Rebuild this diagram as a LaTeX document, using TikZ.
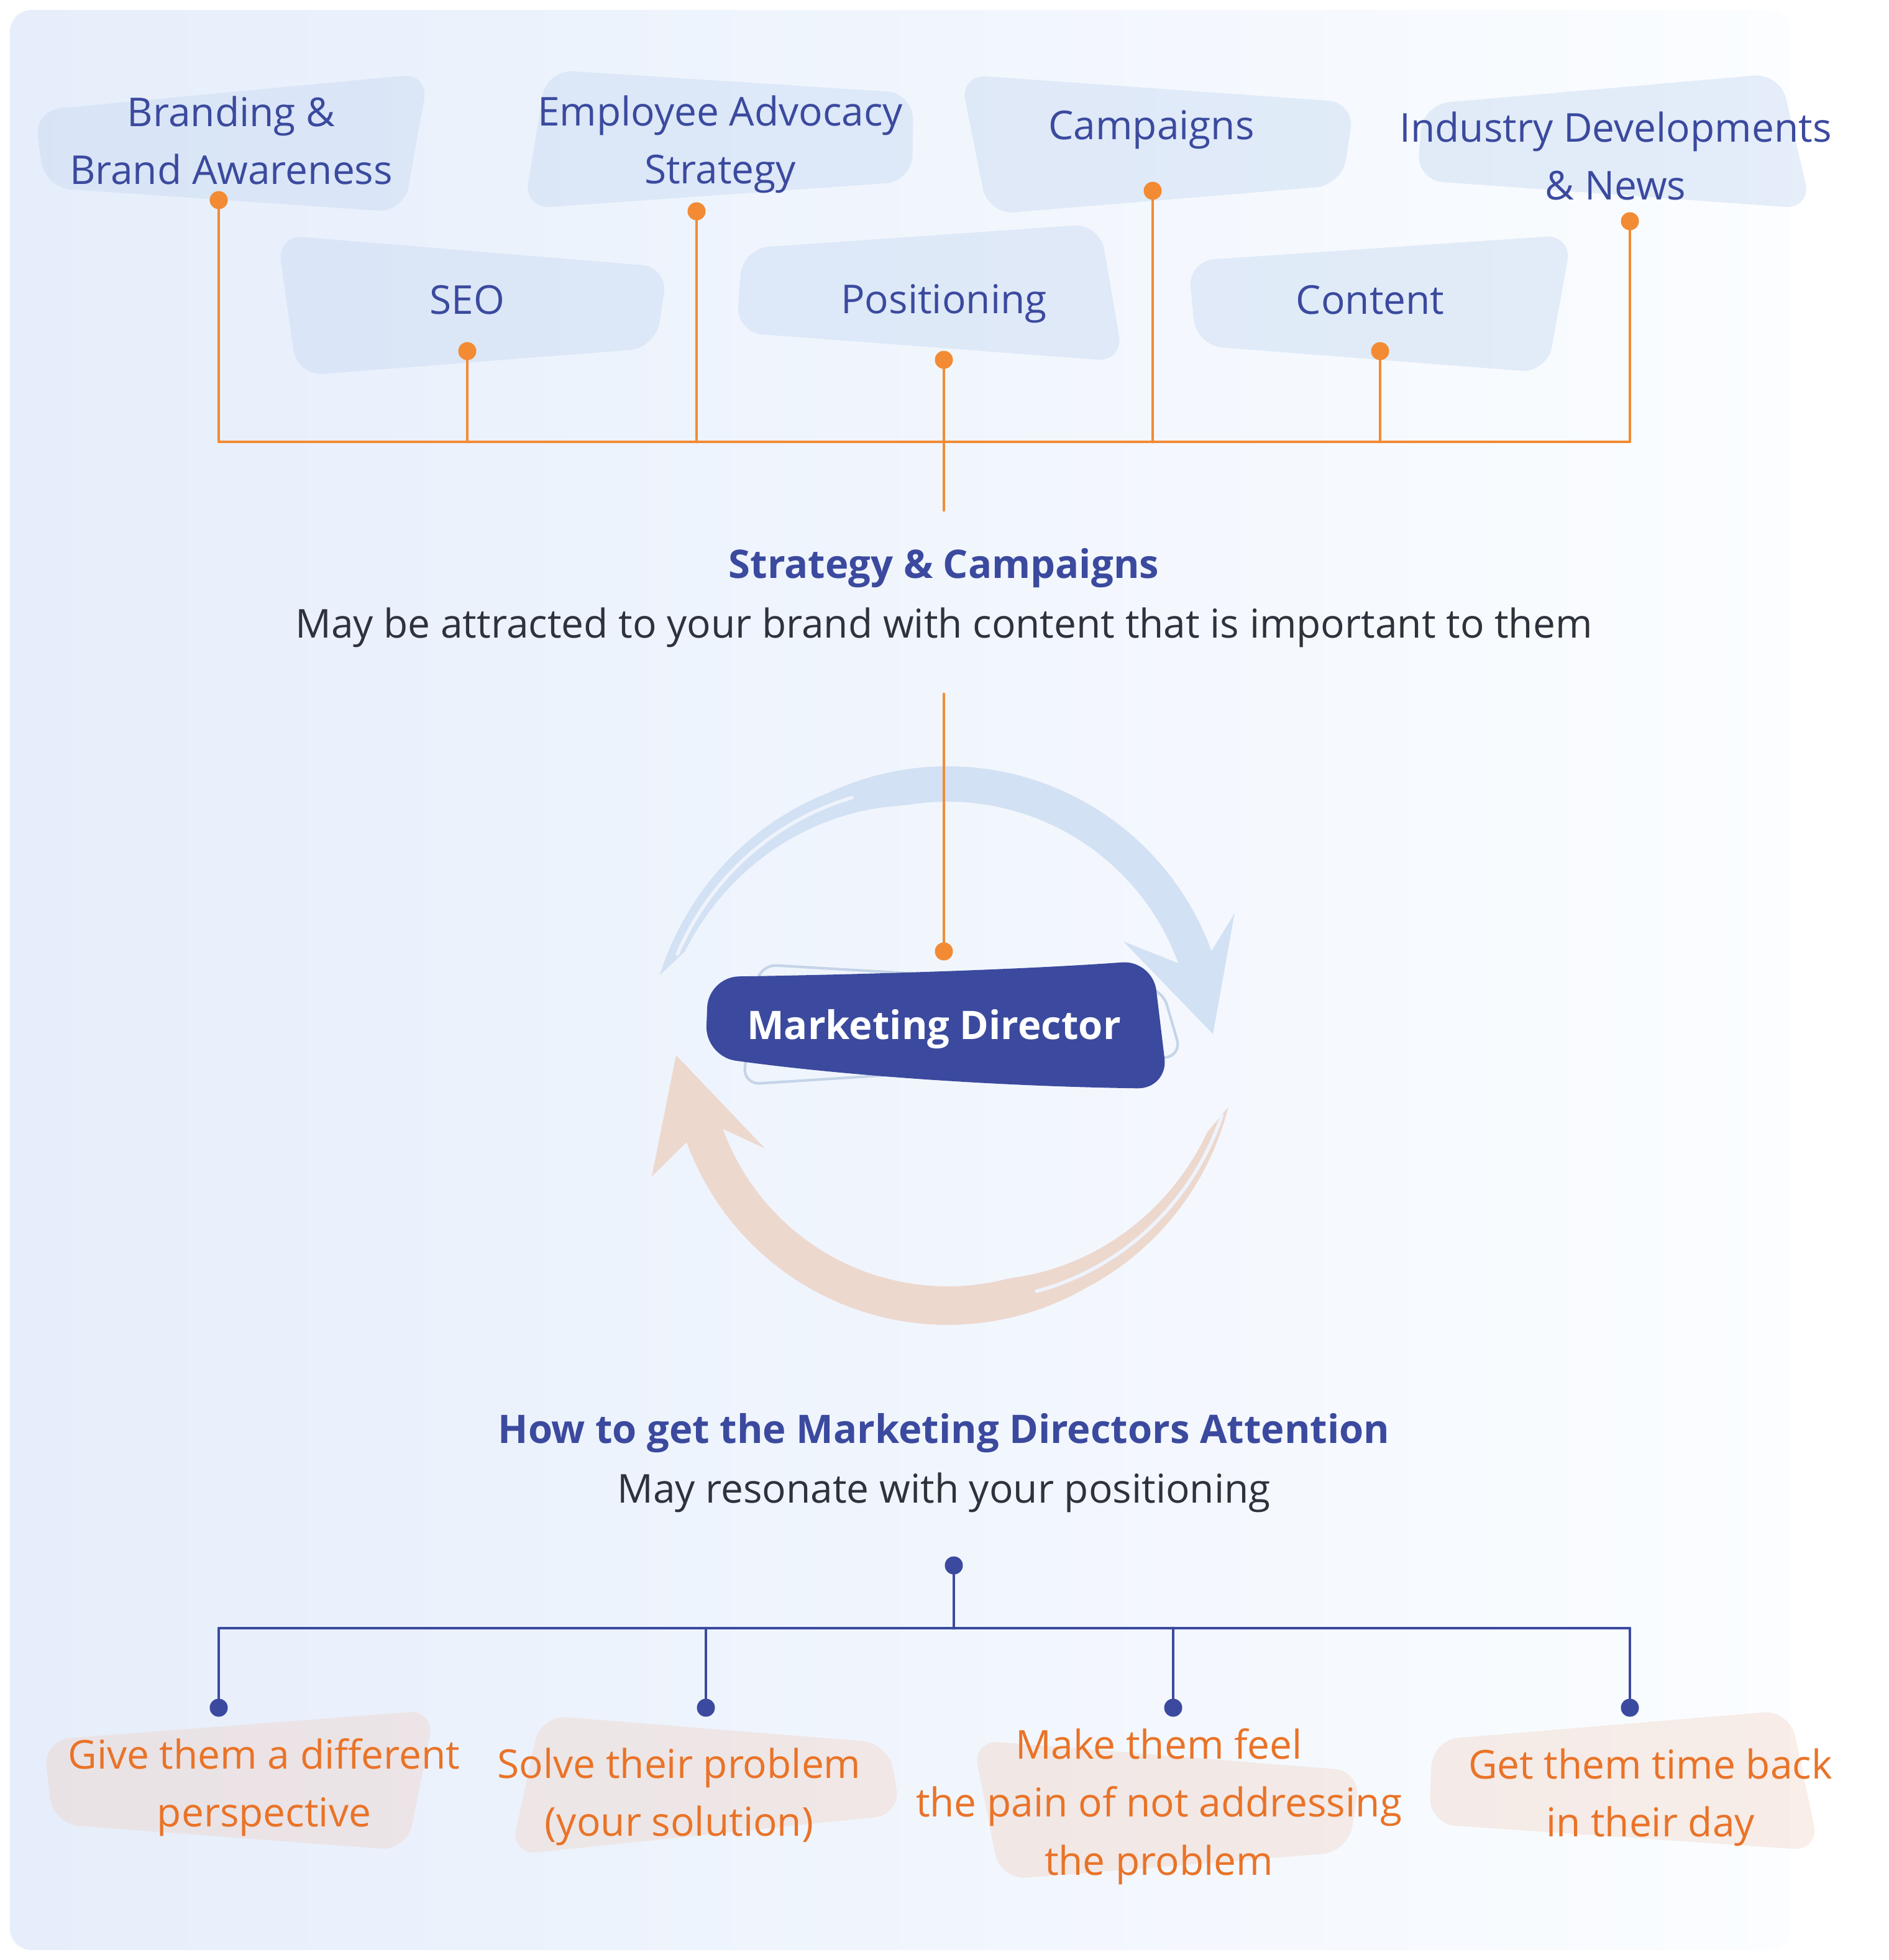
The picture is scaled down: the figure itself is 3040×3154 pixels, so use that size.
\documentclass[tikz,border=0pt]{standalone}
\usepackage{fontspec}
\setmainfont{Open Sans}
\usetikzlibrary{calc}
\begin{document}
\begin{tikzpicture}[line cap=round,line join=round,x=0.01cm,y=-0.01cm,
  lbl/.style={text=navy,font=\fontsize{18.2}{26.5}\selectfont,align=center,inner sep=0pt},
  ttl/.style={text=navy,font=\fontsize{18}{26.5}\selectfont\bfseries,inner sep=0pt},
  sub/.style={text=darktxt,font=\fontsize{18.2}{26.5}\selectfont,inner sep=0pt},
  olbl/.style={text=orngtxt,font=\fontsize{18.2}{26.5}\selectfont,align=center,inner sep=0pt},
  bblob/.style={fill=blobblue,fill opacity=0.45,rounded corners=12pt},
  pblob/.style={fill=blobpeach,fill opacity=0.3,rounded corners=12pt},
  oline/.style={draw=orng,line width=1.4pt},
  nline/.style={draw=navy,line width=1.4pt},
  odot/.style={circle,fill=orng,inner sep=0pt,minimum size=0.29cm},
  ndot/.style={circle,fill=navy,inner sep=0pt,minimum size=0.29cm},
  gapline/.style={draw=bgM,line width=1.6pt}]
\definecolor{navy}{RGB}{59,74,158}
\definecolor{darktxt}{RGB}{45,50,60}
\definecolor{orng}{RGB}{242,139,52}
\definecolor{orngtxt}{RGB}{233,115,40}
\definecolor{bgL}{RGB}{230,238,251}
\definecolor{bgM}{RGB}{238,243,252}
\definecolor{bgR}{RGB}{251,253,255}
\definecolor{blobblue}{RGB}{200,218,242}
\definecolor{blobpeach}{RGB}{240,200,180}
\definecolor{barrowc}{RGB}{210,225,243}
\definecolor{oarrowc}{RGB}{237,216,206}
\definecolor{outlc}{RGB}{197,212,232}
\useasboundingbox (0,0) rectangle (3040,3154);
\fill[white] (0,0) rectangle (3040,3154);
\shade[left color=bgL,middle color=bgM,right color=bgR,rounded corners=10pt] (16,16) rectangle (2880,3138);
% circular arrows
\fill[barrowc] plot[domain=166:20,samples=70] ({1525+(452+25*max(0,(\x-115)/50))*cos(\x)},{1685-(452+25*max(0,(\x-115)/50))*sin(\x)}) -- (1987,1469) -- (1952,1664) -- (1808,1515) -- plot[domain=20:160,samples=70] ({1525+(395+55*max(0,(\x-100)/60))*cos(\x)},{1685-(395+55*max(0,(\x-100)/60))*sin(\x)}) -- cycle;
\draw[gapline] plot[domain=111:161,samples=40] ({1525+(430+30*(\x-111)/50)*cos(\x)},{1685-(430+30*(\x-111)/50)*sin(\x)});
\fill[oarrowc] plot[domain=200:348,samples=70] ({1525+(447+15*max(0,(\x-300)/48))*cos(\x)},{1685-(447+15*max(0,(\x-300)/48))*sin(\x)}) -- plot[domain=342:200,samples=70] ({1525+(385+55*max(0,(\x-285)/57))*cos(\x)},{1685-(385+55*max(0,(\x-285)/57))*sin(\x)}) -- (1231,1848) -- (1088,1698) -- (1049,1893) -- cycle;
\draw[gapline] plot[domain=290:346,samples=40] ({1525+(418+37*(\x-290)/56)*cos(\x)},{1685-(418+37*(\x-290)/56)*sin(\x)});
% blobs
\fill[bblob] (55,178) -- (690,118) -- (650,342) -- (72,302) -- cycle;
\fill[bblob] (880,112) -- (1470,150) -- (1468,292) -- (843,336) -- cycle;
\fill[bblob] (1545,120) -- (2180,165) -- (2160,298) -- (1590,345) -- cycle;
\fill[bblob] (2290,168) -- (2865,118) -- (2915,336) -- (2280,290) -- cycle;
\fill[bblob] (446,378) -- (1075,430) -- (1055,560) -- (478,605) -- cycle;
\fill[bblob] (1195,400) -- (1770,360) -- (1808,582) -- (1185,535) -- cycle;
\fill[bblob] (1912,420) -- (2530,378) -- (2490,600) -- (1925,556) -- cycle;
\fill[pblob] (70,2800) -- (700,2752) -- (655,2978) -- (85,2935) -- cycle;
\fill[pblob] (870,2760) -- (1430,2805) -- (1450,2920) -- (822,2985) -- cycle;
\fill[pblob] (1565,2800) -- (2190,2850) -- (2170,2980) -- (1610,3025) -- cycle;
\fill[pblob] (2305,2800) -- (2880,2752) -- (2928,2978) -- (2300,2935) -- cycle;
% marketing director
\draw[outlc,line width=1.2pt,rounded corners=8pt] (1222,1552) -- (1870,1590) -- (1902,1700) -- (1195,1745) -- cycle;
\fill[navy,rounded corners=14pt] (1140,1572) .. controls (1400,1568) and (1650,1560) .. (1855,1545) -- (1880,1752) .. controls (1600,1748) and (1350,1730) .. (1135,1700) -- cycle;
\node[text=white,font=\fontsize{18}{26.5}\selectfont\bfseries,inner sep=0pt] (tMD) at (1503,1656) {Marketing Director};
% top labels
\node[lbl] (tBrand) at (372,226) {Branding \&\\Brand Awareness};
\node[lbl] (tEmp) at (1159,232) {Employee Advocacy\\Strategy};
\node[lbl] (tCamp) at (1853,209) {Campaigns};
\node[lbl] (tNews) at (2600,251) {Industry Developments\\\& News};
\node[lbl] (tSEO) at (752,483) {SEO};
\node[lbl] (tPos) at (1519,489) {Positioning};
\node[lbl] (tCont) at (2205,483) {Content};
\node[odot] (dBrand) at (352,322) {};
\node[odot] (dEmp) at (1121,340) {};
\node[odot] (dCamp) at (1855,307) {};
\node[odot] (dNews) at (2623,356) {};
\node[odot] (dSEO) at (752,565) {};
\node[odot] (dPos) at (1519,579) {};
\node[odot] (dCont) at (2221,565) {};
\coordinate (bus) at (1519,711);
\coordinate (stem) at (1519,821);
\draw[oline] (dBrand) |- (bus) -| (dNews);
\foreach \d in {dSEO,dEmp,dCamp,dCont} \draw[oline] (\d) -- (\d |- bus);
\draw[oline] (dPos) -- (stem);
\node[ttl] (tStrat) at (1519,914) {Strategy \& Campaigns};
\node[sub] (sStrat) at (1519,1010) {May be attracted to your brand with content that is important to them};
\coordinate (drop) at (1519,1117);
\node[odot] (dMD) at (1519,1531) {};
\draw[oline] (drop) -- (dMD);
% bottom labels
\node[ttl] (tAttn) at (1519,2306) {How to get the Marketing Directors Attention};
\node[sub] (sAttn) at (1519,2402) {May resonate with your positioning};
\node[ndot] (dAttn) at (1535,2519) {};
\coordinate (bus2) at (1535,2620);
\node[ndot] (dGive) at (352,2748) {};
\node[ndot] (dSolve) at (1136,2748) {};
\node[ndot] (dPain) at (1888,2748) {};
\node[ndot] (dTime) at (2623,2748) {};
\draw[nline] (dAttn) -- (bus2);
\draw[nline] (dGive) |- (bus2) -| (dTime);
\foreach \d in {dSolve,dPain} \draw[nline] (\d) -- (\d |- bus2);
\node[olbl] (tGive) at (425,2876) {Give them a different\\perspective};
\node[olbl] (tSolve) at (1093,2891) {Solve their problem\\(your solution)};
\node[olbl] (tPain) at (1865,2907) {Make them feel\\the pain of not addressing\\the problem};
\node[olbl] (tTime) at (2656,2892) {Get them time back\\in their day};
\end{tikzpicture}
\end{document}
